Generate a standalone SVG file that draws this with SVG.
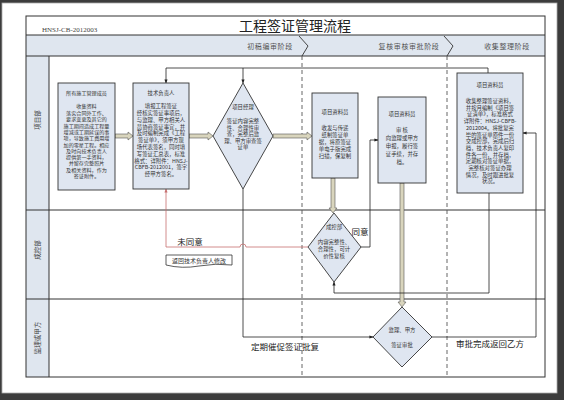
<svg xmlns="http://www.w3.org/2000/svg" width="564" height="400" viewBox="0 0 564 400">
<style>
.frame{fill:none;stroke:#333;stroke-width:1}
.band{fill:#dfe6ef;stroke:none}
.node{fill:#dfe6f1;stroke:#333;stroke-width:0.9}
.t{font-family:"Noto Sans CJK SC","Noto Sans",sans-serif;fill:#333;text-anchor:middle}
.s{font-size:5.4px}
.xs{font-size:5.1px}
.lbl{font-size:8.5px;fill:#222}
.ph{font-size:7px;fill:#555;letter-spacing:0.6px}
.lane{font-size:6.5px;fill:#444}
.conn{fill:none;stroke:#222;stroke-width:0.8}
.red{fill:none;stroke:#c77070;stroke-width:0.8}
.hollow{fill:#d9d5bd;stroke:#555;stroke-width:0.6}
.dash{stroke:#555;stroke-width:0.9;stroke-dasharray:4 3;fill:none}
</style>
<defs>
<marker id="ah" viewBox="0 0 10 10" refX="9" refY="5" markerWidth="5" markerHeight="5" orient="auto"><path d="M0,1 L10,5 L0,9 Z" fill="#222"/></marker>
<marker id="ahr" viewBox="0 0 10 10" refX="9" refY="5" markerWidth="5" markerHeight="5" orient="auto"><path d="M0,1 L10,5 L0,9 Z" fill="#c77070"/></marker>
</defs>
<rect x="0" y="0" width="564" height="400" fill="#3c3c3c"/>
<rect x="2" y="3" width="555" height="390" fill="#fff" stroke="#aaa" stroke-width="0.8"/>
<g id="frame">
<rect class="band" x="26" y="35" width="519" height="21"/>
<rect class="band" x="26" y="56" width="23" height="321"/>
<rect class="frame" x="26" y="16" width="519" height="361"/>
<line class="frame" x1="26" y1="35" x2="545" y2="35"/>
<line class="frame" x1="26" y1="56" x2="545" y2="56"/>
<line class="frame" x1="49" y1="56" x2="49" y2="377"/>
<line class="frame" x1="26" y1="210" x2="545" y2="210"/>
<line class="frame" x1="26" y1="299" x2="545" y2="299"/>
<path d="M299,36 L308,46 L302,56" fill="none" stroke="#333" stroke-width="0.9"/>
<path d="M444,36 L453,46 L447,56" fill="none" stroke="#333" stroke-width="0.9"/>
<line class="dash" x1="302" y1="56" x2="302" y2="377"/>
<line class="dash" x1="447" y1="56" x2="447" y2="377"/>
<text x="42" y="32" style="font-family:'Liberation Serif',serif;font-size:7px;fill:#444">HNSJ-CB-2012003</text>
<text class="t" x="295" y="31" style="font-size:14px;fill:#222">工程签证管理流程</text>
<text class="t ph" x="270" y="49">初稿编审阶段</text>
<text class="t ph" x="409" y="49">复核审核审批阶段</text>
<text class="t ph" x="507" y="49">收集整理阶段</text>
<text class="t lane" transform="translate(39.5,120) rotate(-90)">项目部</text>
<text class="t lane" transform="translate(39.5,250) rotate(-90)">成控部</text>
<text class="t lane" transform="translate(39.5,338) rotate(-90)">监理或甲方</text>
</g>
<g id="connectors">
<path class="hollow" d="M115,134 L128,134 L128,132 L133,136 L128,140 L128,138 L115,138 Z"/>
<path class="hollow" d="M189,134 L208,134 L208,132 L213,136 L208,140 L208,138 L189,138 Z"/>
<path class="hollow" d="M273,134 L307,134 L307,132 L312,136 L307,140 L307,138 L273,138 Z"/>
<path class="hollow" d="M331,178 L331,208 L329,208 L333,213 L337,208 L335,208 L335,178 Z"/>
<path class="hollow" d="M400,183 L400,302 L398,302 L402,307 L406,302 L404,302 L404,183 Z"/>
<path class="conn" d="M488,73 L488,68 L166,68 L166,83" marker-end="url(#ah)"/>
<path class="conn" d="M243,68 L243,83" marker-end="url(#ah)"/>
<path class="conn" d="M243,189 L243,337 L373,337" marker-end="url(#ah)"/>
<path class="red" d="M308,247 L246,247 A3,3 0 0 0 240,247 L166,247 L166,189" marker-end="url(#ahr)"/>
<path class="conn" d="M361,247 L370,247 L370,140 L378,140" marker-end="url(#ah)"/>
<path class="conn" d="M432,337 L536,337 L536,133 L523,133" marker-end="url(#ah)"/>
<path class="conn" d="M489,193 L489,293 L334,293 L334,282" marker-end="url(#ah)"/>
<text class="t lbl" x="190" y="245">未同意</text>
<text class="t lbl" x="360" y="235">同意</text>
<text class="t lbl" x="285" y="350">定期催促签证批复</text>
<text class="t lbl" x="490" y="347">审批完成返回乙方</text>
<path d="M166,255 H232 V265 Q216,263 199,266 Q182,269 166,265 Z" fill="#fff" stroke="#333" stroke-width="0.8"/>
<text class="t" x="199" y="262.5" style="font-size:6px">返回技术负责人修改</text>
</g>
<g id="n1">
<rect class="node" x="58" y="83" width="57" height="107"/>
<text class="t xs" x="86.5" y="95">所有施工管理成员</text>
<text class="t xs" x="86.5" y="108">收集资料</text>
<text class="t xs" x="86.5" y="115">落实合同外工作、</text>
<text class="t xs" x="86.5" y="121.3">要求变更及其它的</text>
<text class="t xs" x="86.5" y="127.6">施工期间造成工程量</text>
<text class="t xs" x="86.5" y="133.9">增减或工期延误的事</text>
<text class="t xs" x="86.5" y="140.2">项，导致施工费用增</text>
<text class="t xs" x="86.5" y="146.5">加的零星工程。相应</text>
<text class="t xs" x="86.5" y="152.8">及时向技术负责人</text>
<text class="t xs" x="86.5" y="159.1">提供第一手资料，</text>
<text class="t xs" x="86.5" y="165.4">并留存完整照片</text>
<text class="t xs" x="86.5" y="171.7">及相关资料，作为</text>
<text class="t xs" x="86.5" y="178">签证附件。</text>
</g>
<g id="n2">
<rect class="node" x="133" y="83" width="56" height="106"/>
<text class="t s" x="161" y="95">技术负责人</text>
<text class="t s" x="161" y="108">填报工程签证</text>
<text class="t s" x="161" y="115">经核实签证事项后，</text>
<text class="t s" x="161" y="121.8">与监理、甲方相关人</text>
<text class="t s" x="161" y="128.6">员协商签证事宜，并</text>
<text class="t s" x="161" y="135.4">及时编制完成《工程</text>
<text class="t s" x="161" y="142.2">签证单》，须甲方现</text>
<text class="t s" x="161" y="149">场代表签名，同时填</text>
<text class="t s" x="161" y="155.8">写签证汇总表，标准</text>
<text class="t s" x="161" y="162.6">格式：详附件：HNSJ-</text>
<text class="t s" x="161" y="169.4">CBFB-2012001，签字</text>
<text class="t s" x="161" y="176.2">经甲方签名。</text>
</g>
<g id="n3">
<polygon class="node" points="243,83 273,136 243,189 213,136"/>
<text class="t s" x="243" y="109">项目经理</text>
<text class="t s" x="243" y="123">签证内容完整</text>
<text class="t s" x="243" y="129.5">性、合理性审</text>
<text class="t s" x="243" y="136">查，完整后监</text>
<text class="t s" x="243" y="142.5">理、甲方审查签</text>
<text class="t s" x="243" y="149">证单</text>
</g>
<g id="n4">
<rect class="node" x="312" y="93" width="46" height="85"/>
<text class="t s" x="335" y="114">项目资料员</text>
<text class="t s" x="335" y="130">收发与传递</text>
<text class="t s" x="335" y="137">纸制签证单</text>
<text class="t s" x="335" y="144">据，将原签证</text>
<text class="t s" x="335" y="151">单电子版完成</text>
<text class="t s" x="335" y="158">扫描，保复制</text>
</g>
<g id="n5">
<polygon class="node" points="334,213 361,247 334,282 308,247"/>
<text class="t s" x="334" y="229">成控部</text>
<text class="t s" x="334" y="244">内容完整性、</text>
<text class="t s" x="334" y="251">合理性，可计</text>
<text class="t s" x="334" y="258">价性复核</text>
</g>
<g id="n6">
<rect class="node" x="378" y="97" width="48" height="86"/>
<text class="t s" x="402" y="116">项目资料员</text>
<text class="t s" x="402" y="132">审  核</text>
<text class="t s" x="402" y="140">向监理或甲方</text>
<text class="t s" x="402" y="148">申报，履行签</text>
<text class="t s" x="402" y="156">证手续，并存</text>
<text class="t s" x="402" y="164">档。</text>
</g>
<g id="n7">
<polygon class="node" points="402,307 432,337 402,367 373,337"/>
<text class="t s" x="402" y="332">监理、甲方</text>
<text class="t s" x="402" y="347">签证审批</text>
</g>
<g id="n8">
<rect class="node" x="457" y="73" width="66" height="120"/>
<text class="t s" x="490" y="87">项目资料员</text>
<text class="t s" x="490" y="103">收集整理签证资料，</text>
<text class="t s" x="490" y="109.7">并按月编制《项目签</text>
<text class="t s" x="490" y="116.4">证清单》，标准格式</text>
<text class="t s" x="490" y="123.1">详附件：HNSJ-CBFB-</text>
<text class="t s" x="490" y="129.8">2012004。将批复完</text>
<text class="t s" x="490" y="136.5">毕的签证单原件一份</text>
<text class="t s" x="490" y="143.2">交成控部，完成后归</text>
<text class="t s" x="490" y="149.9">档，技术负责人复印</text>
<text class="t s" x="490" y="156.6">件各一份，并存档，</text>
<text class="t s" x="490" y="163.3">定期核对签证单据，</text>
<text class="t s" x="490" y="170">完整核对签证办理</text>
<text class="t s" x="490" y="176.7">情况，及时跟进批复</text>
<text class="t s" x="490" y="183.4">状况。</text>
</g>
</svg>
